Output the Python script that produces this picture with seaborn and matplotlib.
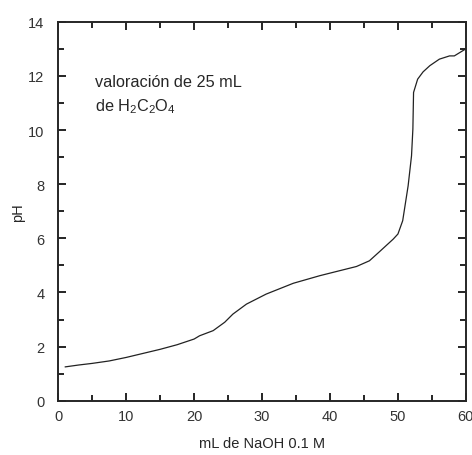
import numpy as np
import pandas as pd
import matplotlib
matplotlib.use("Agg")
import matplotlib.pyplot as plt
import seaborn as sns

# titration curve
vol_naoh = [1.0, 3.0, 5.0, 7.5, 10.0, 12.5, 15.0, 17.5, 20.0, 20.8, 22.8, 24.5, 25.7,
            27.7, 30.6, 34.6, 38.5, 40.4, 43.9, 45.8, 47.3, 49.3, 50.0, 50.7, 51.5,
            52.0, 52.2, 52.3, 52.9, 53.7, 54.7, 56.1, 57.6, 58.3, 59.8]
ph = [1.25, 1.32, 1.38, 1.47, 1.60, 1.75, 1.90, 2.07, 2.28, 2.40, 2.59, 2.90, 3.20,
      3.57, 3.94, 4.34, 4.62, 4.74, 4.96, 5.17, 5.51, 5.97, 6.16, 6.65, 7.94,
      9.05, 10.04, 11.39, 11.88, 12.15, 12.38, 12.62, 12.74, 12.74, 12.97]

x_ticks = [0, 10, 20, 30, 40, 50, 60]
y_ticks = [0, 2, 4, 6, 8, 10, 12, 14]

df = pd.DataFrame({"mL": vol_naoh, "pH": ph})

sns.set_style("ticks")
plt.rcParams['font.family'] = ['Liberation Sans', 'DejaVu Sans']
plt.rcParams['mathtext.fontset'] = 'custom'
plt.rcParams['mathtext.rm'] = 'Liberation Sans'

fig = plt.figure(figsize=(4.72, 4.56), dpi=100)
ax = fig.add_axes([0.1235, 0.119, 0.8635, 0.831])

sns.lineplot(data=df, x="mL", y="pH", color="#222222", linewidth=0.9, ax=ax)

ax.set_xlim(0, 60)
ax.set_ylim(0, 14)
ax.set_xticks(x_ticks)
ax.set_yticks(y_ticks)
ax.set_xticks(np.arange(5, 60, 10), minor=True)
ax.set_yticks(np.arange(1, 14, 2), minor=True)
ax.tick_params(which='both', direction='in', top=True, right=True,
               width=1.2, color='black', labelsize=10.5, labelcolor='#333333')
ax.tick_params(which='major', length=6)
ax.tick_params(which='minor', length=4)
ax.tick_params(axis='x', which='major', pad=6)
ax.tick_params(axis='y', which='major', pad=10)
for s in ax.spines.values():
    s.set_linewidth(1.4)
    s.set_visible(True)

ax.set_xlabel("mL de NaOH 0.1 M", fontsize=10.5, labelpad=9.5)
ax.set_ylabel("pH", fontsize=10.5, labelpad=2)

ax.text(5.4, 11.81, "valoración de 25 mL", fontsize=11.7, va='center')
ax.text(5.4, 10.89, r"de H$_\mathregular{2}$C$_\mathregular{2}$O$_\mathregular{4}$",
        fontsize=11.7, va='center')

fig.savefig("out.png", dpi=100)
